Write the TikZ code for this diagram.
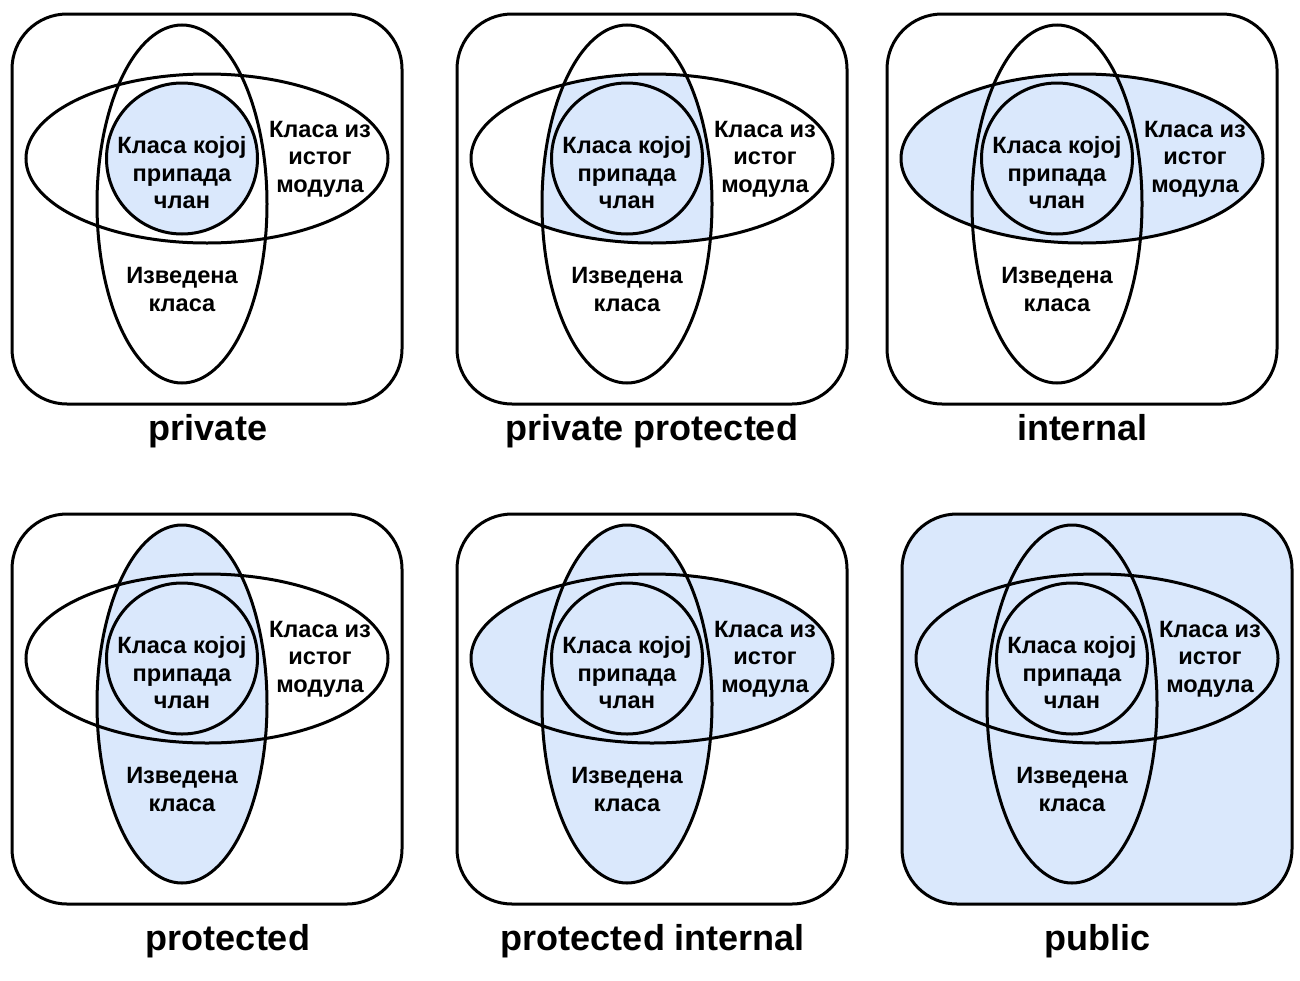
\documentclass[tikz,border=0pt]{standalone}
\usepackage{fontspec}
\setmainfont{Liberation Sans}
\definecolor{vennblue}{HTML}{DAE8FC}
\tikzset{
  outline/.style={line width=3pt, draw=black},
  innertext/.style={font=\fontsize{23.6}{27.6}\selectfont\bfseries, align=center, inner sep=0pt},
  labeltext/.style={font=\fontsize{36}{42}\selectfont\bfseries, anchor=base, inner sep=0pt},
}
\newcommand\vennpanel[4]{%
  \begin{scope}[shift={(#1,#2)}]
    \ifnum#3=6
      \path[outline, fill=vennblue, rounded corners=55pt] (0,0) rectangle (390,390);
    \else
      \path[outline, fill=white, rounded corners=55pt] (0,0) rectangle (390,390);
    \fi
    \ifcase#3
    \or
      \fill[vennblue] (170,144.5) circle[radius=75.5];
    \or
      \begin{scope}
        \clip (195,144.5) ellipse[x radius=181, y radius=84.5];
        \fill[vennblue] (170,190) ellipse[x radius=85, y radius=179];
      \end{scope}
    \or
      \fill[vennblue] (195,144.5) ellipse[x radius=181, y radius=84.5];
    \or
      \fill[vennblue] (170,190) ellipse[x radius=85, y radius=179];
    \or
      \fill[vennblue] (195,144.5) ellipse[x radius=181, y radius=84.5];
      \fill[vennblue] (170,190) ellipse[x radius=85, y radius=179];
    \fi
    \draw[outline] (170,190) ellipse[x radius=85, y radius=179];
    \draw[outline] (195,144.5) ellipse[x radius=181, y radius=84.5];
    \draw[outline] (170,144.5) circle[radius=75.5];
    \node[innertext] (#4-member) at (170,158.7) {Класа којој\\припада\\члан};
    \node[innertext] (#4-module) at (308,145.3) {Класа из\\истог\\модула};
    \node[innertext] (#4-derived) at (170,275.3) {Изведена\\класа};
  \end{scope}}
\begin{document}
\begin{tikzpicture}[x=1pt,y=-1pt]
  \fill[white] (0,0) rectangle (1300,980);
  \useasboundingbox (0,0) rectangle (1300,980);
  \vennpanel{12}{14}{1}{p1}
  \vennpanel{457}{14}{2}{p2}
  \vennpanel{887}{14}{3}{p3}
  \vennpanel{12}{514}{4}{p4}
  \vennpanel{457}{514}{5}{p5}
  \vennpanel{902}{514}{6}{p6}
  \node[labeltext] (l1) at (208,440) {private};
  \node[labeltext] (l2) at (652,440) {private protected};
  \node[labeltext] (l3) at (1082,440) {internal};
  \node[labeltext] (l4) at (228,950) {protected};
  \node[labeltext] (l5) at (653,950) {protected internal};
  \node[labeltext] (l6) at (1097,950) {public};
\end{tikzpicture}
\end{document}
